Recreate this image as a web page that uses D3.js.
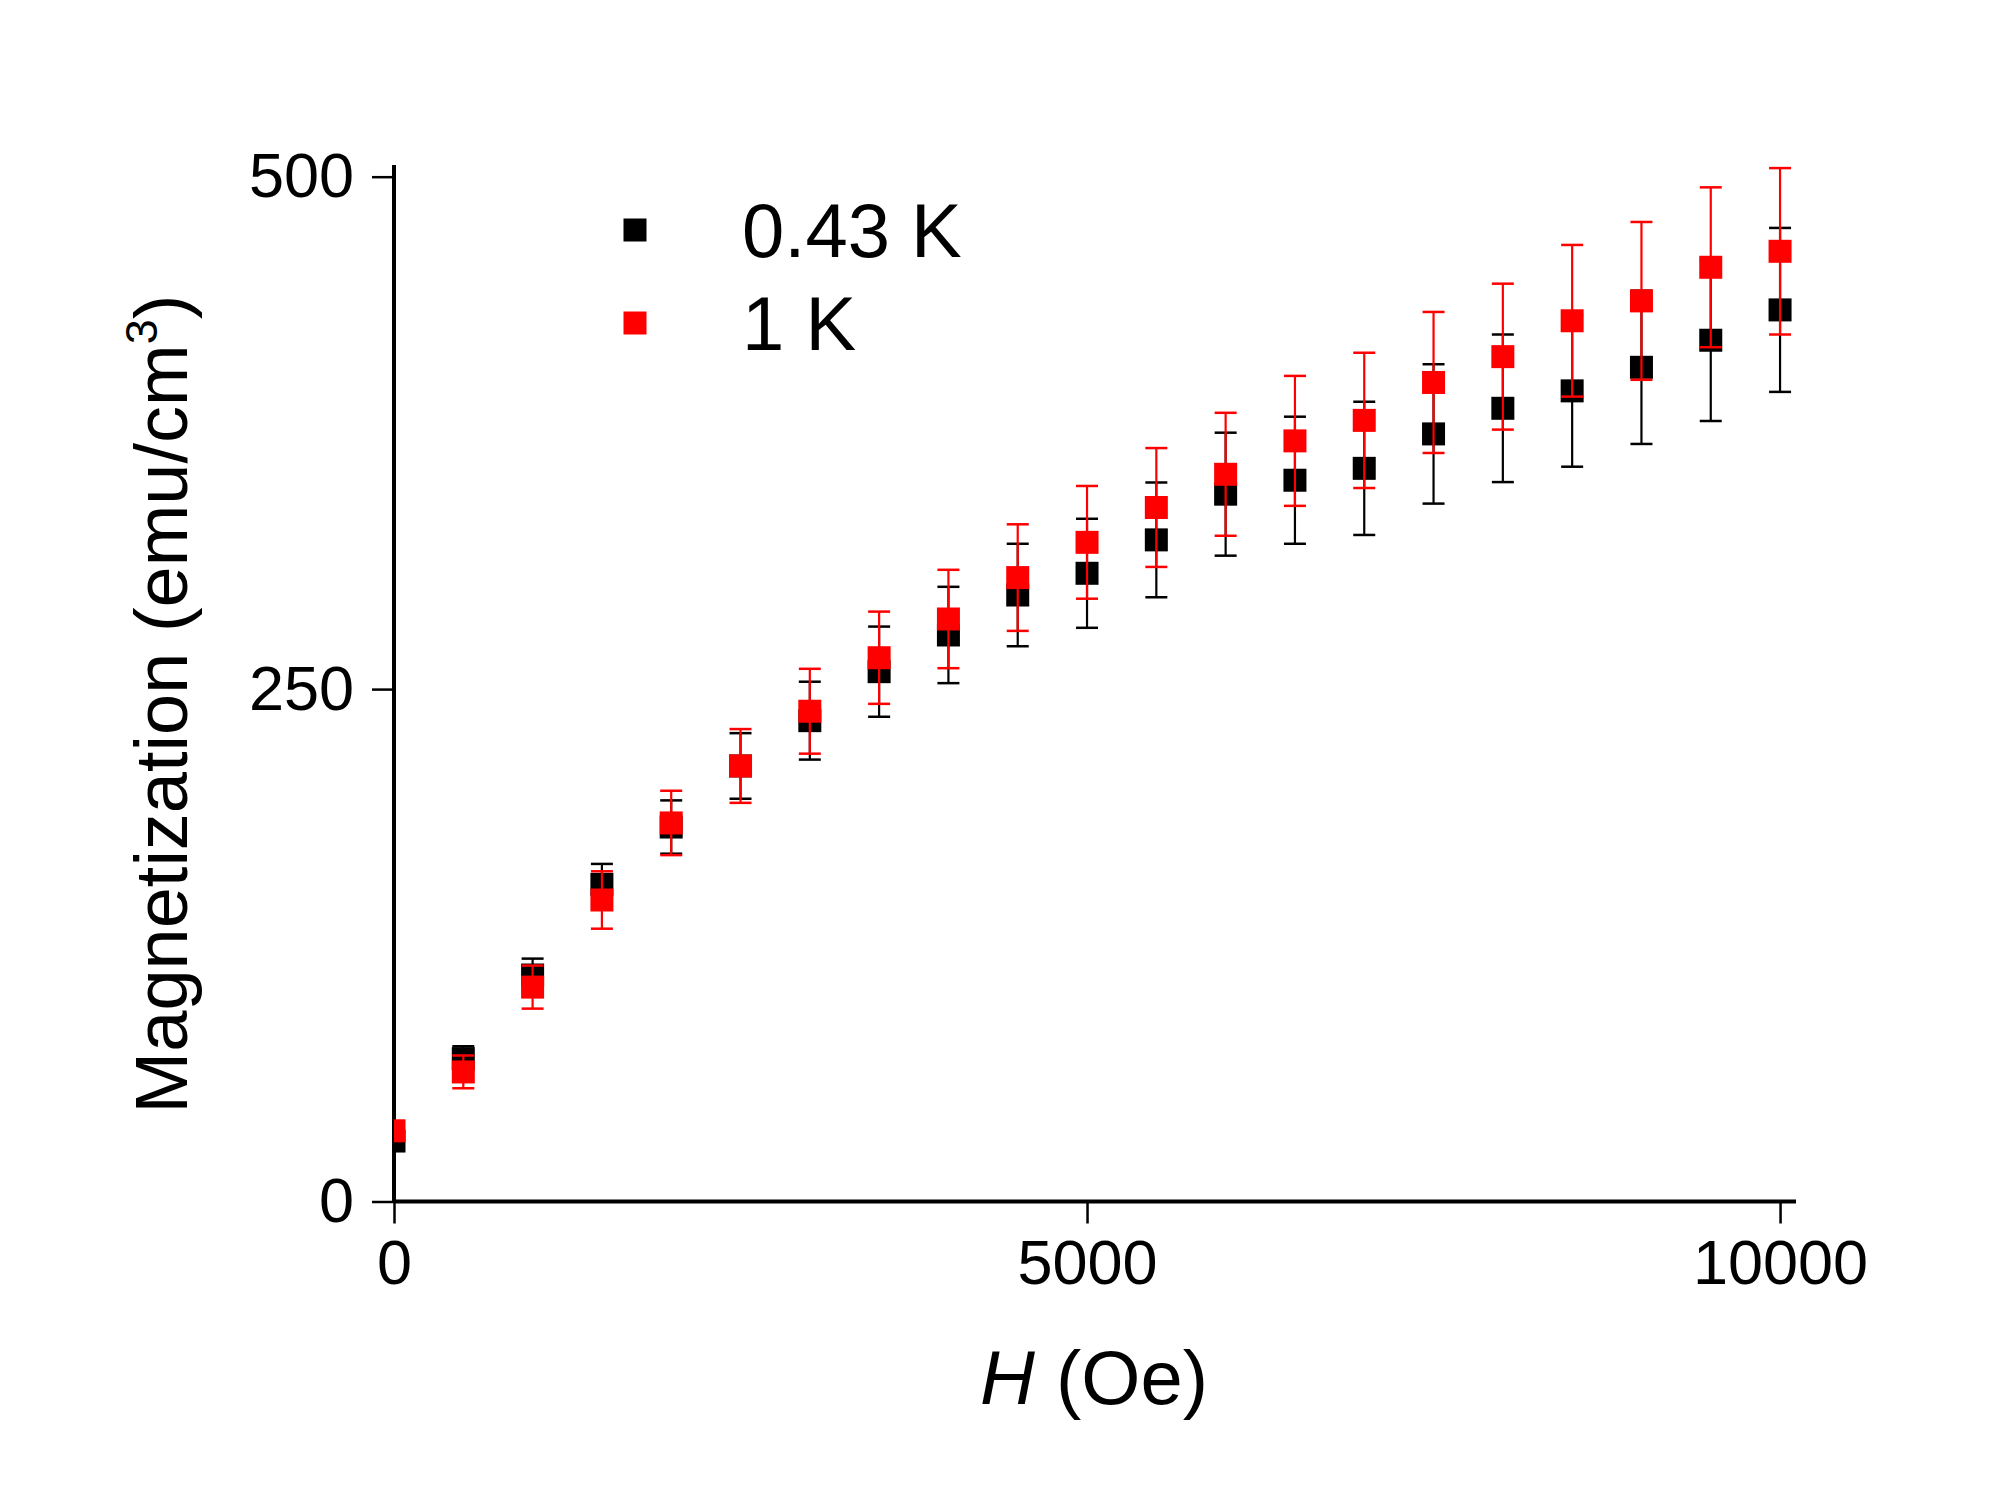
<!DOCTYPE html>
<html>
<head>
<meta charset="utf-8">
<script src="https://cdn.jsdelivr.net/npm/d3@7"></script>
<style>
  html, body { margin: 0; padding: 0; background: #fff; }
  svg { display: block; }
  text { font-family: "Liberation Sans", Arial, Helvetica, sans-serif; fill: #000; }
</style>
</head>
<body>
<svg id="chart" width="2000" height="1500"></svg>
<script>
// ---- data ----
const fields = [0, 500, 1000, 1500, 2000, 2500, 3000, 3500, 4000, 4500, 5000,
                5500, 6000, 6500, 7000, 7500, 8000, 8500, 9000, 9500, 10000];
const mag043 = [29.5, 69.7, 110.5, 154.7, 182.7, 212.5, 234.6, 258.5, 276.4, 295.9, 306.5,
                322.8, 345.1, 351.9, 357.7, 374.5, 387.0, 395.5, 407.0, 420.2, 435.0];
const err043 = [3, 6, 8, 10, 13, 16, 19, 22, 23.5, 25, 26.6,
                28, 30, 31, 32.5, 34, 36, 37, 37.4, 39.4, 40];
const mag1 = [34.5, 63.2, 104.6, 147.1, 184.7, 212.5, 239.2, 265.3, 284.2, 304.4, 321.6,
              338.6, 354.8, 371.1, 381.1, 399.6, 412.2, 429.7, 439.4, 455.8, 463.6];
const err1 = [4, 8, 10.5, 14, 15.7, 18, 20.7, 22.5, 24, 26, 27.5,
              29, 30, 31.7, 33, 34.4, 35.6, 37, 38.5, 39, 40.6];
const xTicks = [0, 5000, 10000];
const yTicks = [0, 250, 500];
const seriesNames = ["0.43 K", "1 K"];
const seriesColors = ["#000000", "#ff0000"];

const series = [
  { name: seriesNames[0], color: seriesColors[0], vals: mag043, errs: err043 },
  { name: seriesNames[1], color: seriesColors[1], vals: mag1, errs: err1 }
];

// ---- layout ----
const svg = d3.select("#chart");
const x = d3.scaleLinear().domain([0, 10115]).range([394, 1796]);
const y = d3.scaleLinear().domain([0, 505.7]).range([1201.5, 165]);

const fontTick = 63, fontBig = 76;

svg.append("defs").append("clipPath").attr("id", "plotclip")
  .append("rect").attr("x", 394).attr("y", 0).attr("width", 1500).attr("height", 1201.5);

// axes
const gx = svg.append("g").attr("transform", "translate(0,1201.5)")
  .call(d3.axisBottom(x).tickValues(xTicks).tickSize(22).tickPadding(16).tickFormat(d3.format("d")));
const gy = svg.append("g").attr("transform", "translate(394,0)")
  .call(d3.axisLeft(y).tickValues(yTicks).tickSize(22).tickPadding(18).tickFormat(d3.format("d")));
[gx, gy].forEach(g => {
  g.select(".domain").attr("stroke", "#000").attr("stroke-width", 4);
  g.selectAll(".tick line").attr("stroke", "#000").attr("stroke-width", 2.5);
  g.selectAll(".tick text").attr("font-size", fontTick)
    .attr("font-family", "'Liberation Sans', Arial, sans-serif").attr("fill", "#000");
});
gx.select(".domain").attr("d", `M${x(0)},0H${x.range()[1]}`);
gy.select(".domain").attr("d", `M0,${y(0)}V${y.range()[1]}`);

// data
const plot = svg.append("g").attr("clip-path", "url(#plotclip)");
const ms = 23, cap = 11;
series.forEach(s => {
  const g = plot.append("g");
  const pts = fields.map((f, i) => ({ f, v: s.vals[i], e: s.errs[i] }));
  g.selectAll("line.err").data(pts).join("line").attr("class", "err")
    .attr("x1", d => x(d.f)).attr("x2", d => x(d.f))
    .attr("y1", d => y(d.v - d.e)).attr("y2", d => y(d.v + d.e))
    .attr("stroke", s.color).attr("stroke-width", 2.2);
  g.selectAll("line.capt").data(pts).join("line").attr("class", "capt")
    .attr("x1", d => x(d.f) - cap).attr("x2", d => x(d.f) + cap)
    .attr("y1", d => y(d.v + d.e)).attr("y2", d => y(d.v + d.e))
    .attr("stroke", s.color).attr("stroke-width", 2.5);
  g.selectAll("line.capb").data(pts).join("line").attr("class", "capb")
    .attr("x1", d => x(d.f) - cap).attr("x2", d => x(d.f) + cap)
    .attr("y1", d => y(d.v - d.e)).attr("y2", d => y(d.v - d.e))
    .attr("stroke", s.color).attr("stroke-width", 2.5);
  g.selectAll("rect").data(pts).join("rect")
    .attr("x", d => x(d.f) - ms / 2).attr("y", d => y(d.v) - ms / 2)
    .attr("width", ms).attr("height", ms).attr("fill", s.color);
});

// legend
const leg = svg.append("g");
series.forEach((s, i) => {
  const cy = 230 + i * 93;
  leg.append("rect").attr("x", 635 - ms / 2).attr("y", cy - ms / 2)
    .attr("width", ms).attr("height", ms).attr("fill", s.color);
  leg.append("text").attr("x", 742).attr("y", cy + 27)
    .attr("font-size", fontBig).text(s.name);
});

// axis titles
const xt = svg.append("text").attr("x", 1094).attr("y", 1404)
  .attr("text-anchor", "middle").attr("font-size", fontBig);
xt.append("tspan").attr("font-style", "italic").text("H");
xt.append("tspan").text(" (Oe)");

const yt = svg.append("text")
  .attr("transform", "translate(187,704) rotate(-90)")
  .attr("text-anchor", "middle").attr("font-size", 74);
yt.append("tspan").text("Magnetization (emu/cm");
yt.append("tspan").attr("font-size", 45).attr("dy", -30).text("3");
yt.append("tspan").attr("dy", 30).text(")");
</script>
</body>
</html>
